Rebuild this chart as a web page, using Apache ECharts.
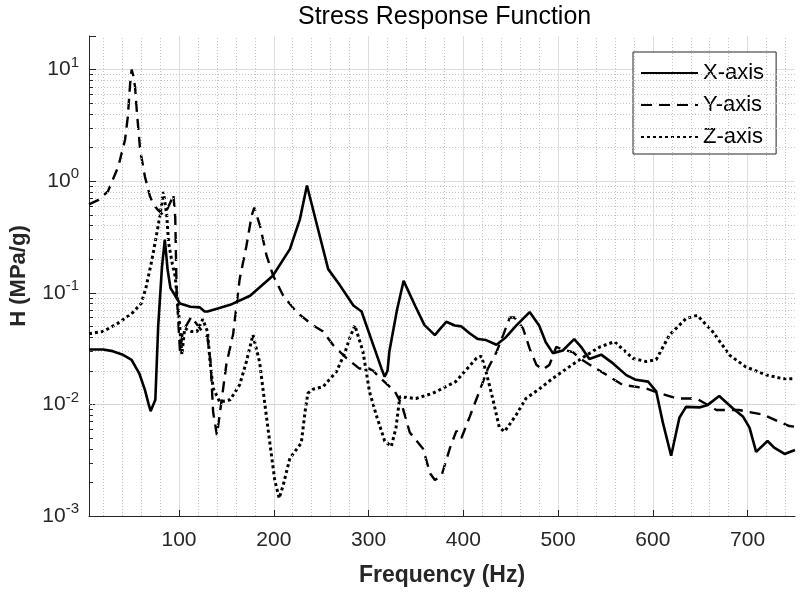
<!DOCTYPE html>
<html>
<head>
<meta charset="utf-8">
<script src="https://cdn.jsdelivr.net/npm/echarts@6/dist/echarts.min.js"></script>
<style>
  html, body { margin: 0; padding: 0; background: #fff; }
  #chart { width: 800px; height: 592px; }
</style>
</head>
<body>
<div id="chart"></div>
<script>
// values (Hz, MPa/g)
const xAxisFreq = [5, 20, 30, 40, 50, 58, 64, 68, 70, 75, 78, 82, 85, 88, 91, 96, 101, 112, 122, 127, 130, 140, 154, 175, 199, 217, 227.5, 235, 246.7, 257.4, 270, 284, 292.6, 305, 313.6, 317, 320, 322, 330, 337, 349, 359, 370, 375, 382, 391, 398, 406.6, 415.4, 424, 435, 445, 456, 470, 480, 487, 494.5, 505, 517, 524, 533, 545.5, 558, 572, 582, 595, 603.5, 610.5, 619.3, 628, 635, 649, 658, 670, 684, 695, 702, 709, 721, 728, 739, 750];
const xAxisH = [0.031, 0.031, 0.030, 0.028, 0.025, 0.019, 0.0135, 0.010, 0.0087, 0.011, 0.05, 0.17, 0.30, 0.16, 0.11, 0.094, 0.080, 0.075, 0.074, 0.068, 0.068, 0.072, 0.078, 0.094, 0.142, 0.246, 0.455, 0.914, 0.371, 0.163, 0.116, 0.077, 0.068, 0.034, 0.021, 0.0177, 0.02, 0.03, 0.07, 0.128, 0.077, 0.0513, 0.0418, 0.047, 0.055, 0.051, 0.050, 0.0434, 0.0385, 0.0377, 0.0342, 0.040, 0.051, 0.0672, 0.051, 0.036, 0.0288, 0.0304, 0.0385, 0.033, 0.0255, 0.0279, 0.0233, 0.0183, 0.0166, 0.016, 0.0131, 0.0069, 0.00347, 0.0076, 0.0095, 0.0094, 0.0099, 0.0119, 0.0093, 0.0078, 0.0062, 0.00375, 0.0047, 0.0041, 0.0036, 0.0039];

const yAxisFreq = [5, 15, 25, 36, 43, 46, 48.4, 50, 51.5, 53.6, 55.4, 59, 64, 69.4, 73, 78, 83, 87, 91, 94, 96, 97.5, 101, 104, 113, 122, 130, 133.5, 134.5, 136, 140, 145, 150, 157, 164, 171, 176.6, 179.4, 185.4, 192.4, 199.4, 210, 224, 241.5, 252, 262.6, 276.7, 290, 300, 305, 310, 320, 328, 335, 343.5, 357.5, 365, 370, 377, 386, 392.7, 398, 406.6, 417, 426, 435, 442, 449, 454, 463, 470, 477, 484, 491, 498, 505, 515.6, 523, 537, 551, 568, 593, 607, 625, 646, 667, 691, 716, 744, 750];
const yAxisH = [0.62, 0.68, 0.81, 1.36, 2.34, 3.8, 7.5, 10, 9, 7, 4.3, 1.9, 1.1, 0.73, 0.62, 0.55, 0.5, 0.55, 0.65, 0.76, 0.48, 0.1, 0.03, 0.045, 0.061, 0.048, 0.04, 0.023, 0.015, 0.0085, 0.0053, 0.011, 0.023, 0.042, 0.133, 0.26, 0.49, 0.58, 0.40, 0.215, 0.142, 0.094, 0.067, 0.051, 0.045, 0.034, 0.026, 0.021, 0.021, 0.02, 0.018, 0.015, 0.013, 0.01, 0.0056, 0.004, 0.0024, 0.0021, 0.0023, 0.0041, 0.0058, 0.005, 0.0077, 0.0131, 0.021, 0.0294, 0.0418, 0.06, 0.06, 0.048, 0.0316, 0.0227, 0.0205, 0.0227, 0.0327, 0.031, 0.0294, 0.0258, 0.0217, 0.0184, 0.015, 0.0139, 0.0126, 0.0113, 0.0113, 0.0089, 0.0089, 0.0081, 0.0064, 0.0063];

const zAxisFreq = [5, 20, 35, 50, 60, 65, 71, 76, 80, 83.5, 87, 89, 93, 96, 100, 103, 106, 113, 119, 125, 130, 133, 136, 143, 154, 164, 171, 178, 180, 185, 190.6, 196, 201, 205.7, 210, 217, 229, 233, 236, 241.5, 252, 266, 275, 280, 285.5, 294, 301, 308, 317, 324, 329, 333, 350, 368, 392, 414, 419, 424, 431, 438, 443.5, 456, 466, 480, 494, 515, 530, 544, 559.5, 579, 593, 603.5, 617.5, 635, 647, 663, 681, 698, 719.5, 737, 750];
const zAxisH = [0.043, 0.045, 0.053, 0.065, 0.08, 0.11, 0.19, 0.32, 0.5, 0.8, 0.5, 0.28, 0.18, 0.14, 0.06, 0.028, 0.048, 0.045, 0.045, 0.058, 0.045, 0.023, 0.014, 0.0105, 0.011, 0.015, 0.024, 0.042, 0.043, 0.024, 0.01, 0.0044, 0.0021, 0.00144, 0.0019, 0.0033, 0.0045, 0.0086, 0.0126, 0.0137, 0.0144, 0.0196, 0.029, 0.039, 0.051, 0.03, 0.013, 0.0081, 0.0047, 0.0042, 0.0062, 0.0117, 0.0113, 0.0126, 0.016, 0.026, 0.027, 0.0196, 0.0113, 0.0062, 0.0057, 0.0081, 0.0113, 0.0137, 0.017, 0.0227, 0.0276, 0.0327, 0.0365, 0.0258, 0.0242, 0.0252, 0.0418, 0.0588, 0.0627, 0.045, 0.0276, 0.0217, 0.0184, 0.017, 0.017];

const seriesNames = ['X-axis', 'Y-axis', 'Z-axis'];
const xMinorGrid = [20, 40, 60, 80, 120, 140, 160, 180, 220, 240, 260, 280, 320, 340, 360, 380, 420, 440, 460, 480, 520, 540, 560, 580, 620, 640, 660, 680, 720, 740];
const yMinorGrid = [];
for (let d = -3; d <= 0; d++) {
  for (let k = 2; k <= 9; k++) yMinorGrid.push(+(k * Math.pow(10, d)).toPrecision(3));
}

const pairs = (fs, hs) => fs.map((f, i) => [f, hs[i]]);

const chart = echarts.init(document.getElementById('chart'));
const ink = '#262626';
const font = 'Liberation Sans, Arial, sans-serif';

const option = {
  animation: false,
  backgroundColor: '#fff',
  title: {
    text: 'Stress Response Function',
    left: 293,
    top: 0,
    textStyle: { fontSize: 25, fontWeight: 'normal', color: '#000', fontFamily: font }
  },
  grid: { left: 89, right: 5, top: 36, bottom: 74 },
  legend: {
    data: seriesNames,
    orient: 'vertical',
    left: 633,
    top: 52,
    padding: [10, 12, 6, 7],
    itemWidth: 57,
    itemHeight: 22,
    itemGap: 10,
    backgroundColor: '#fff',
    borderColor: ink,
    borderWidth: 1,
    borderRadius: 0,
    itemStyle: { opacity: 0 },
    textStyle: { fontSize: 22, color: '#000', fontFamily: font }
  },
  xAxis: {
    type: 'value',
    min: 5,
    max: 750,
    splitNumber: 7,
    name: 'Frequency (Hz)',
    nameLocation: 'middle',
    nameGap: 48,
    nameTextStyle: { fontSize: 23, fontWeight: 'bold', color: ink, fontFamily: font },
    axisLine: { lineStyle: { color: ink, width: 1 } },
    axisTick: { inside: true, length: 6, lineStyle: { color: ink } },
    axisLabel: {
      fontSize: 21, color: ink, margin: 14, fontFamily: font,
      showMinLabel: false, showMaxLabel: false
    },
    splitLine: {
      lineStyle: { color: ['rgba(0,0,0,0)', '#dedede', '#dedede', '#dedede', '#dedede', '#dedede', '#dedede', '#dedede', 'rgba(0,0,0,0)'], width: 1 }
    }
  },
  yAxis: {
    type: 'log',
    logBase: 10,
    min: 0.001,
    max: 20,
    name: 'H (MPa/g)',
    nameLocation: 'middle',
    nameGap: 59,
    nameTextStyle: { fontSize: 22, fontWeight: 'bold', color: ink, fontFamily: font },
    axisLine: { show: true, lineStyle: { color: ink, width: 1 } },
    axisTick: { inside: true, length: 7, lineStyle: { color: ink } },
    axisLabel: {
      margin: 10,
      fontFamily: font,
      formatter: function (v) {
        const e = Math.log10(v);
        const r = Math.round(e);
        if (Math.abs(e - r) > 1e-6) return '';
        return '{b|10}{s|' + r + '}';
      },
      rich: {
        b: { fontSize: 21, color: ink, fontFamily: font },
        s: { fontSize: 15, color: ink, padding: [0, 0, 14, 0], fontFamily: font }
      }
    },
    splitLine: {
      lineStyle: { color: ['#dedede', '#dedede', '#dedede', '#dedede', '#dedede', 'rgba(0,0,0,0)'], width: 1 }
    }
  },
  series: [
    {
      name: 'minor-grid',
      type: 'line',
      data: [],
      silent: true,
      z: 1,
      markLine: {
        silent: true,
        symbol: 'none',
        animation: false,
        label: { show: false },
        lineStyle: { color: '#c4c4c4', type: [1, 2], width: 1 },
        data: xMinorGrid.map(v => ({ xAxis: v })).concat(yMinorGrid.map(v => ({ yAxis: v })))
      }
    },
    {
      // short inward minor ticks on the left axis
      name: 'minor-ticks',
      type: 'line',
      data: [],
      silent: true,
      z: 6,
      markLine: {
        silent: true,
        symbol: 'none',
        animation: false,
        label: { show: false },
        lineStyle: { color: ink, type: 'solid', width: 1 },
        data: yMinorGrid.map(v => [{ coord: [5, v] }, { coord: [9.2, v] }])
      }
    },
    {
      name: seriesNames[0],
      type: 'line',
      data: pairs(xAxisFreq, xAxisH),
      showSymbol: false,
      symbol: 'none',
      z: 5,
      lineStyle: { color: '#000', width: 2.6, type: 'solid' },
      itemStyle: { color: '#000' }
    },
    {
      name: seriesNames[1],
      type: 'line',
      data: pairs(yAxisFreq, yAxisH),
      showSymbol: false,
      symbol: 'none',
      z: 4,
      lineStyle: { color: '#000', width: 2.4, type: [11, 7] },
      itemStyle: { color: '#000' }
    },
    {
      name: seriesNames[2],
      type: 'line',
      data: pairs(zAxisFreq, zAxisH),
      showSymbol: false,
      symbol: 'none',
      z: 3,
      lineStyle: { color: '#000', width: 3, type: [3, 3] },
      itemStyle: { color: '#000' }
    }
  ]
};

chart.setOption(option);
window.addEventListener('resize', () => chart.resize());
</script>
</body>
</html>
